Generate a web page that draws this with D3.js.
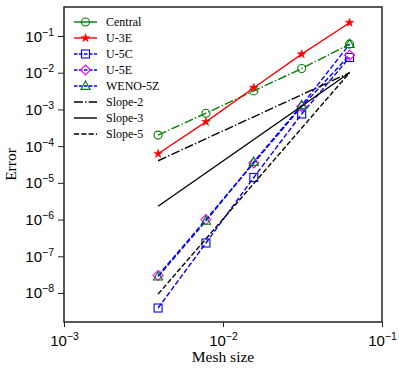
<!DOCTYPE html>
<html>
<head>
<meta charset="utf-8">
<script src="https://cdn.jsdelivr.net/npm/d3@7"></script>
<style>
    html, body { margin: 0; padding: 0; background: #fff; }
    svg { display: block; font-family: "Liberation Serif", "DejaVu Serif", serif; }
</style>
</head>
<body>
<div id="chart"></div>
<script>
// mesh sizes (1/256 ... 1/16)
const meshSize = [0.00390625, 0.0078125, 0.015625, 0.03125, 0.0625];

const centralErr = [2.0e-4, 7.9e-4, 3.2e-3, 1.3e-2, 6.0e-2];
const u3eErr = [6.2e-5, 4.6e-4, 3.9e-3, 3.2e-2, 2.3e-1];
const u5cErr = [3.9e-9, 2.3e-7, 1.4e-5, 7.5e-4, 2.6e-2];
const u5eErr = [3.0e-8, 1.0e-6, 3.5e-5, 1.2e-3, 3.0e-2];
const wenoErr = [2.8e-8, 9.2e-7, 3.7e-5, 1.3e-3, 6.0e-2];

// reference slope lines, first and last mesh size only
const slopeMesh = [0.00390625, 0.0625];
const slope2 = [4.0e-5, 1.0e-2];
const slope3 = [2.3e-6, 1.0e-2];
const slope5 = [9.3e-9, 1.0e-2];

const xTicks = [1e-3, 1e-2, 1e-1];
const yTicks = [1e-8, 1e-7, 1e-6, 1e-5, 1e-4, 1e-3, 1e-2, 1e-1];

const width = 399, height = 370;
const margin = { left: 64, right: 17, top: 7, bottom: 48 };

const svg = d3.select("#chart").append("svg")
    .attr("width", width)
    .attr("height", height);

const x = d3.scaleLog()
    .domain([1e-3, 1e-1])
    .range([margin.left, width - margin.right]);

const y = d3.scaleLog()
    .domain([Math.pow(10, -8.79), Math.pow(10, -0.21)])
    .range([height - margin.bottom, margin.top]);

const dashed = "5.1,2.2";
const dashdot = "8.9,2.2,1.4,2.2";

const series = [
    { name: "Central", values: centralErr, color: "#008000", dash: dashdot, marker: "circle", mcolor: "#008000" },
    { name: "U-3E", values: u3eErr, color: "#ff0000", dash: null, marker: "star", mcolor: "#ff0000" },
    { name: "U-5C", values: u5cErr, color: "#0000ff", dash: dashed, marker: "square", mcolor: "#0000ff" },
    { name: "U-5E", values: u5eErr, color: "#0000ff", dash: dashed, marker: "diamond", mcolor: "#ff00ff" },
    { name: "WENO-5Z", values: wenoErr, color: "#0000ff", dash: dashed, marker: "triangle", mcolor: "#008000" }
];

const slopes = [
    { name: "Slope-2", values: slope2, dash: dashdot },
    { name: "Slope-3", values: slope3, dash: null },
    { name: "Slope-5", values: slope5, dash: dashed }
];

function drawMarker(g, type, cx, cy, color) {
    if (type === "circle") {
        g.append("circle").attr("cx", cx).attr("cy", cy).attr("r", 4)
            .attr("fill", "none").attr("stroke", color).attr("stroke-width", 1.1);
    } else if (type === "star") {
        g.append("path")
            .attr("d", d3.symbol().type(d3.symbolStar).size(22)())
            .attr("transform", `translate(${cx},${cy})`)
            .attr("fill", color).attr("stroke", color).attr("stroke-width", 0.6);
    } else if (type === "square") {
        g.append("rect").attr("x", cx - 4).attr("y", cy - 4).attr("width", 8).attr("height", 8)
            .attr("fill", "none").attr("stroke", color).attr("stroke-width", 1.1);
    } else if (type === "diamond") {
        g.append("path")
            .attr("d", `M${cx},${cy - 5}L${cx + 5},${cy}L${cx},${cy + 5}L${cx - 5},${cy}Z`)
            .attr("fill", "none").attr("stroke", color).attr("stroke-width", 1.1);
    } else if (type === "triangle") {
        g.append("path")
            .attr("d", `M${cx},${cy - 5}L${cx + 4.6},${cy + 3.4}L${cx - 4.6},${cy + 3.4}Z`)
            .attr("fill", "none").attr("stroke", color).attr("stroke-width", 1.1);
    }
}

const line = d3.line()
    .x(d => x(d[0]))
    .y(d => y(d[1]));

const plot = svg.append("g");

// data series: line then markers, in plotting order
series.forEach(s => {
    const pts = meshSize.map((h, i) => [h, s.values[i]]);
    plot.append("path")
        .attr("d", line(pts))
        .attr("fill", "none")
        .attr("stroke", s.color)
        .attr("stroke-width", 1.4)
        .attr("stroke-dasharray", s.dash);
    pts.forEach(p => drawMarker(plot, s.marker, x(p[0]), y(p[1]), s.mcolor));
});

slopes.forEach(s => {
    const pts = slopeMesh.map((h, i) => [h, s.values[i]]);
    plot.append("path")
        .attr("d", line(pts))
        .attr("fill", "none")
        .attr("stroke", "#000")
        .attr("stroke-width", 1.4)
        .attr("stroke-dasharray", s.dash);
});

// frame
svg.append("rect")
    .attr("x", margin.left)
    .attr("y", margin.top)
    .attr("width", width - margin.left - margin.right)
    .attr("height", height - margin.top - margin.bottom)
    .attr("fill", "none")
    .attr("stroke", "#222")
    .attr("stroke-width", 1.5);

function powLabel(sel, v) {
    const e = Math.round(Math.log10(v));
    sel.text(null);
    sel.append("tspan").text("10");
    sel.append("tspan").attr("dy", -6).attr("font-size", 10.5).text("\u2212" + Math.abs(e));
}

// x axis
const xAxis = svg.append("g")
    .attr("transform", `translate(0,${height - margin.bottom})`)
    .call(d3.axisBottom(x).tickValues(xTicks).tickSize(5).tickPadding(4).tickFormat(""));
xAxis.select(".domain").remove();
xAxis.selectAll(".tick line").attr("stroke", "#222").attr("stroke-width", 1);
xAxis.selectAll(".tick").each(function (d) {
    d3.select(this).append("text")
        .attr("x", 0)
        .attr("y", 24)
        .attr("text-anchor", "middle")
        .attr("font-size", 15)
        .attr("fill", "#000")
        .call(powLabel, d);
});

// y axis
const yAxis = svg.append("g")
    .attr("transform", `translate(${margin.left},0)`)
    .call(d3.axisLeft(y).tickValues(yTicks).tickSize(6).tickFormat(""));
yAxis.select(".domain").remove();
yAxis.selectAll(".tick line").attr("stroke", "#222").attr("stroke-width", 1);
yAxis.selectAll(".tick").each(function (d) {
    d3.select(this).append("text")
        .attr("x", -10)
        .attr("y", 5)
        .attr("text-anchor", "end")
        .attr("font-size", 15)
        .attr("fill", "#000")
        .call(powLabel, d);
});

// axis labels
svg.append("text")
    .attr("x", (margin.left + width - margin.right) / 2)
    .attr("y", 362)
    .attr("text-anchor", "middle")
    .attr("font-size", 15.5)
    .text("Mesh size");

svg.append("text")
    .attr("transform", `translate(16,${(margin.top + height - margin.bottom) / 2}) rotate(-90)`)
    .attr("text-anchor", "middle")
    .attr("font-size", 15.5)
    .text("Error");

// legend
const legend = svg.append("g");
const legendItems = series.map(s => ({ ...s })).concat(slopes.map(s => ({ ...s, color: "#000", marker: null })));
legendItems.forEach((d, i) => {
    const ly = 22 + i * 16;
    legend.append("line")
        .attr("x1", 74).attr("x2", 97)
        .attr("y1", ly).attr("y2", ly)
        .attr("stroke", d.color)
        .attr("stroke-width", 1.4)
        .attr("stroke-dasharray", d.dash === dashed && d.marker ? "3.5,1.5" : (d.dash === dashdot && d.marker ? null : d.dash));
    if (d.marker) drawMarker(legend, d.marker, 85.5, ly, d.mcolor);
    legend.append("text")
        .attr("x", 106)
        .attr("y", ly + 4)
        .attr("font-size", 12)
        .text(d.name);
});
</script>
</body>
</html>
